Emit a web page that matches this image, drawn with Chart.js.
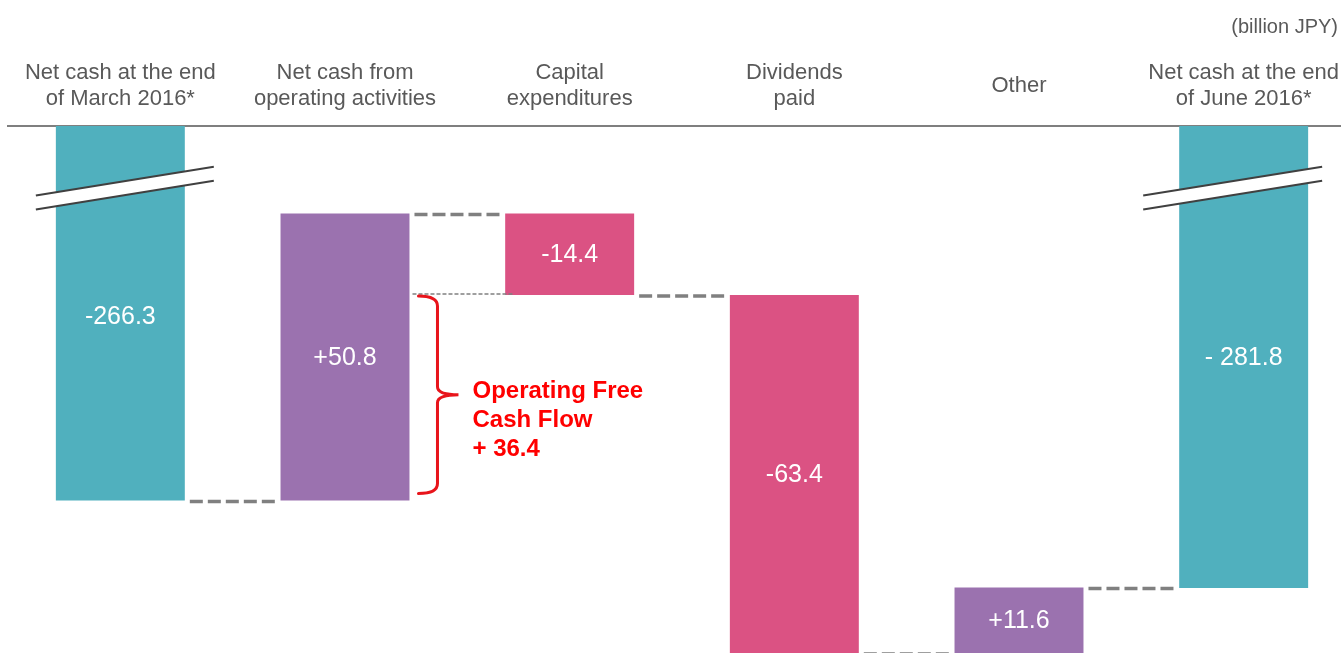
<!DOCTYPE html>
<html><head><meta charset="utf-8">
<script src="https://cdn.jsdelivr.net/npm/chart.js@4.4.0/dist/chart.umd.min.js"></script>
<style>
html,body{margin:0;padding:0;overflow:hidden;background:#fff;}
#wrap{position:relative;width:1356px;height:653px;}
#unit{position:absolute;top:15px;left:0;width:1338px;text-align:right;font:20px 'Liberation Sans',Arial,sans-serif;line-height:22px;color:#595959;}
</style></head><body>
<div id="wrap"><canvas id="c"></canvas><div id="unit">(billion JPY)</div></div>
<script>
const categories = [['Net cash at the end','of March 2016*'], ['Net cash from','operating activities'], ['Capital','expenditures'], ['Dividends','paid'], 'Other', ['Net cash at the end','of June 2016*']];
const netCashStart = -266.3;
const changes = [50.8, -14.4, -63.4, 11.6];
const netCashEnd = -281.8;
const valueLabels = ['-266.3','+50.8','-14.4','-63.4','+11.6','- 281.8'];
const axisTop = -200;      // broken axis: top of visible range
const axisBottom = -293.3;
const fcfLabel = ['Operating Free','Cash Flow','+ 36.4'];
const barColors = ['#50B0BE','#9B72AF','#DB5283','#DB5283','#9B72AF','#50B0BE'];

const bars = [[netCashStart, axisTop]];
let level = netCashStart;
const levels = [level];
changes.forEach(c => { bars.push([level, level + c]); level += c; levels.push(level); });
bars.push([netCashEnd, axisTop]);

const FONT = "'Liberation Sans', Arial, sans-serif";

const deco = {
  id: 'deco',
  afterDatasetsDraw(chart) {
    const ctx = chart.ctx, ys = chart.scales.y, ca = chart.chartArea;
    const els = chart.getDatasetMeta(0).data;
    const L = i => els[i].x - els[i].width / 2;
    const R = i => els[i].x + els[i].width / 2;
    ctx.save();
    // break marks on the first and last bars
    const breaks = [[0, -20, 29], [5, -36, 14]];
    breaks.forEach(([i, dl, dr]) => {
      const xa = L(i) + dl, xb = R(i) + dr;
      const u1 = ys.getPixelForValue(-212.3), u2 = ys.getPixelForValue(-207.2);
      const l1 = ys.getPixelForValue(-214.8), l2 = ys.getPixelForValue(-209.7);
      ctx.fillStyle = '#fff';
      ctx.beginPath(); ctx.moveTo(xa, u1); ctx.lineTo(xb, u2); ctx.lineTo(xb, l2); ctx.lineTo(xa, l1); ctx.closePath(); ctx.fill();
      ctx.strokeStyle = '#404040'; ctx.lineWidth = 2; ctx.setLineDash([]);
      ctx.beginPath(); ctx.moveTo(xa, u1); ctx.lineTo(xb, u2); ctx.stroke();
      ctx.beginPath(); ctx.moveTo(xa, l1); ctx.lineTo(xb, l2); ctx.stroke();
    });
    // connectors
    ctx.strokeStyle = '#808080'; ctx.lineWidth = 3.5; ctx.setLineDash([13, 5]);
    for (let i = 0; i < levels.length; i++) {
      const py = ys.getPixelForValue(levels[i]) + 1;
      ctx.beginPath(); ctx.moveTo(R(i) + 5, py); ctx.lineTo(L(i + 1) - 5, py); ctx.stroke();
    }
    // thin dashed line for FCF
    const pyF = ys.getPixelForValue(levels[2]) - 1;
    ctx.lineWidth = 1.5; ctx.setLineDash([4, 2]);
    ctx.beginPath(); ctx.moveTo(R(1) + 3, pyF); ctx.lineTo(L(2) + 8, pyF); ctx.stroke();
    ctx.setLineDash([]);
    // value labels
    ctx.fillStyle = '#fff'; ctx.font = '25px ' + FONT; ctx.textAlign = 'center'; ctx.textBaseline = 'middle';
    els.forEach((el, i) => {
      const top = Math.max(Math.min(el.y, el.base), ca.top);
      const bot = Math.min(Math.max(el.y, el.base), ca.bottom);
      const extra = i === 0 ? 4 : 1;
      ctx.fillText(valueLabels[i], el.x, (top + bot) / 2 + extra);
    });
    // brace
    const x0 = R(1) + 9;
    const yT = ys.getPixelForValue(levels[2]) + 1;
    const yB = ys.getPixelForValue(netCashStart) - 7;
    const yM = (yT + yB) / 2;
    const xv = x0 + 19;
    ctx.strokeStyle = '#E8141B'; ctx.lineWidth = 3; ctx.lineCap = 'round';
    ctx.beginPath();
    ctx.moveTo(x0, yT);
    ctx.quadraticCurveTo(xv, yT, xv, yT + 10);
    ctx.lineTo(xv, yM - 8);
    ctx.quadraticCurveTo(xv, yM, xv + 21, yM);
    ctx.quadraticCurveTo(xv, yM, xv, yM + 8);
    ctx.lineTo(xv, yB - 10);
    ctx.quadraticCurveTo(xv, yB, x0, yB);
    ctx.stroke();
    // FCF text
    ctx.fillStyle = '#FF0000'; ctx.font = 'bold 24px ' + FONT; ctx.textAlign = 'left';
    fcfLabel.forEach((t, k) => ctx.fillText(t, x0 + 54, yM - 3 + k * 29));
    ctx.restore();
  }
};

new Chart(document.getElementById('c'), {
  type: 'bar',
  data: {
    labels: categories,
    datasets: [{ data: bars, backgroundColor: barColors, borderWidth: 0, categoryPercentage: 1, barPercentage: 0.574 }]
  },
  options: {
    responsive: true, maintainAspectRatio: false, animation: false,
    layout: { padding: { left: 8, right: 0, top: 0, bottom: 0 } },
    plugins: { legend: { display: false }, tooltip: { enabled: false } },
    scales: {
      x: {
        position: 'top',
        grid: { display: false, drawTicks: false, tickLength: 0 },
        border: { display: true, color: '#7f7f7f', width: 2 },
        ticks: { color: '#595959', font: { family: FONT, size: 22, lineHeight: 1.2 }, padding: 27, crossAlign: 'center', maxRotation: 0, autoSkip: false },
        afterFit: s => { s.height = 126; s.paddingLeft = 0; s.paddingRight = 0; }
      },
      y: { display: false, min: axisBottom, max: axisTop }
    }
  },
  plugins: [deco]
});
</script>
</body></html>
